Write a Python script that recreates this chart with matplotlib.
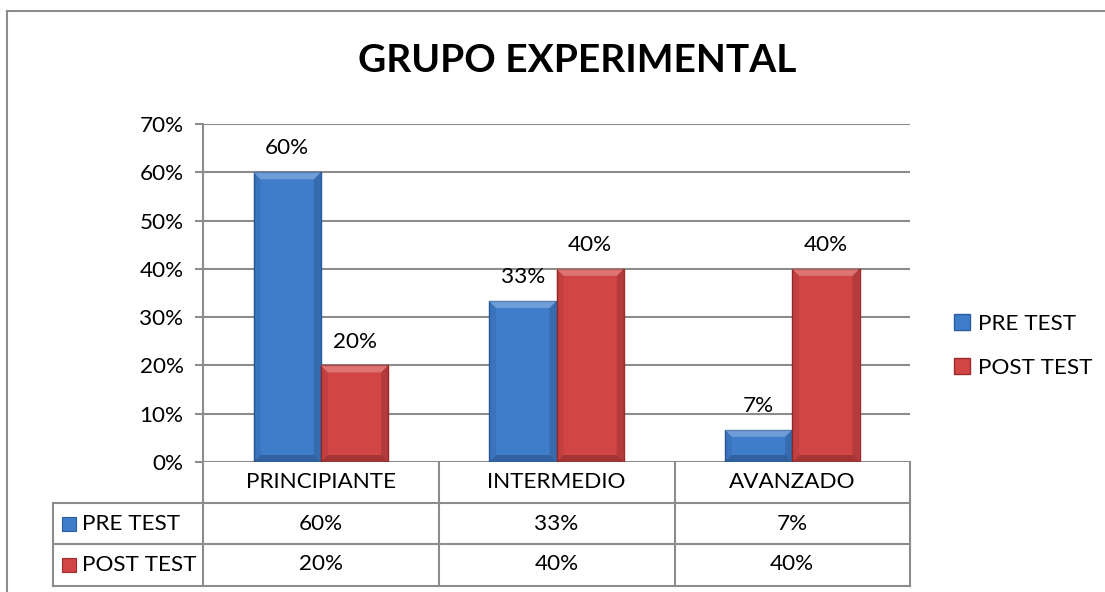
import matplotlib
matplotlib.use("Agg")
import matplotlib.pyplot as plt
from matplotlib.lines import Line2D
from matplotlib.patches import Polygon
import numpy as np

categories = ["PRINCIPIANTE", "INTERMEDIO", "AVANZADO"]
series_names = ["PRE TEST", "POST TEST"]
pre_test = [60.0, 33.33, 6.67]
post_test = [20.0, 40.0, 40.0]
yticks = [0, 10, 20, 30, 40, 50, 60, 70]
title = "GRUPO EXPERIMENTAL"

FONT = "Lato"
plt.rcParams['font.family'] = [FONT, 'DejaVu Sans']
FS = 16.2

W, H = 1105, 592
fig = plt.figure(figsize=(W / 100, H / 100), dpi=100)
fig.patch.set_facecolor("white")

def fx(px):
    return px / W

def fy(py):
    return 1 - py / H

ax_l, ax_r, ax_t, ax_b = 203, 910, 124, 462
ax = fig.add_axes([fx(ax_l), fy(ax_b), fx(ax_r - ax_l), fy(ax_t) - fy(ax_b)])

grid_c = "#8c8c8c"
blue, blue_e = "#3f7dcb", "#2b5c9e"
red, red_e = "#d24545", "#9c2b2b"

x = np.arange(len(categories))
w = 1 / 3.5
b1 = ax.bar(x - w / 2, pre_test, w, color=blue, edgecolor=blue_e, linewidth=1.0,
            label=series_names[0], zorder=3)
b2 = ax.bar(x + w / 2, post_test, w, color=red, edgecolor=red_e, linewidth=1.0,
            label=series_names[1], zorder=3)

ax.set_xlim(-0.5, len(categories) - 0.5)
ax.set_ylim(0, 70)

# bevel effect on bars
px_x = 3 / (ax_r - ax_l)
px_y = 70 / (ax_b - ax_t)
bev = 7
for bars in (b1, b2):
    for r in bars:
        x0, y0 = r.get_x(), r.get_y()
        x1, y1 = x0 + r.get_width(), y0 + r.get_height()
        dx = bev * px_x
        dy = min(bev * px_y, (y1 - y0) / 2)
        pieces = [
            ([(x0, y1), (x1, y1), (x1 - dx, y1 - dy), (x0 + dx, y1 - dy)], "white", 0.25),
            ([(x0, y0), (x0, y1), (x0 + dx, y1 - dy), (x0 + dx, y0 + dy)], "black", 0.07),
            ([(x1, y0), (x1, y1), (x1 - dx, y1 - dy), (x1 - dx, y0 + dy)], "black", 0.14),
            ([(x0, y0), (x1, y0), (x1 - dx, y0 + dy), (x0 + dx, y0 + dy)], "black", 0.22),
        ]
        for pts, c, a in pieces:
            ax.add_patch(Polygon(pts, closed=True, facecolor=c, alpha=a,
                                 edgecolor="none", zorder=4))

for bars, vals in ((b1, pre_test), (b2, post_test)):
    for r, v in zip(bars, vals):
        ax.annotate(f"{round(v)}%", (r.get_x() + r.get_width() / 2, v),
                    xytext=(0, 10), textcoords="offset points", ha="center",
                    va="bottom", fontsize=FS, color="black", zorder=5)

ax.set_yticks(yticks)
ax.set_yticklabels([f"{t}%" for t in yticks], fontsize=FS)
ax.yaxis.grid(True, color=grid_c, linewidth=1.5, zorder=0)
ax.set_xticks([])
for s in ("top", "right", "bottom"):
    ax.spines[s].set_visible(False)
ax.spines["left"].set_color(grid_c)
ax.spines["left"].set_linewidth(1.5)
ax.tick_params(axis="y", length=6, width=1.5, color=grid_c, pad=8)

# Data table below the axes
row_h = 41 / (ax_b - ax_t)
xt = ax.get_xaxis_transform()
ft = fig.transFigure
for i, c in enumerate(categories):
    ax.text(i, -row_h * 0.5, c, transform=xt, ha="center", va="center",
            fontsize=FS, clip_on=False)
for r, (name, vals) in enumerate(zip(series_names, (pre_test, post_test))):
    for i, v in enumerate(vals):
        ax.text(i, -row_h * (r + 1.5), f"{round(v)}%", transform=xt,
                ha="center", va="center", fontsize=FS, clip_on=False)

lines = []
tbl_left = 53
for yy in (503, 544, 586):
    lines.append(((tbl_left, ax_r), (yy, yy)))
lines.append(((tbl_left, tbl_left), (503, 586)))
for xx in (203, 439, 675, 910):
    lines.append(((xx, xx), (ax_b, 586)))
for (xs, ys) in lines:
    fig.add_artist(Line2D([fx(v) for v in xs], [fy(v) for v in ys],
                          color=grid_c, linewidth=1.5))

for r, (name, col, ec) in enumerate(zip(series_names, (blue, red), (blue_e, red_e))):
    yc = 523.5 + r * 41.5
    fig.add_artist(plt.Rectangle((fx(62), fy(yc + 7)), fx(14), fy(0) - fy(14),
                                 transform=ft, facecolor=col, edgecolor=ec, linewidth=0.8))
    fig.text(fx(82), fy(yc), name, ha="left", va="center", fontsize=FS)

fig.add_artist(Line2D([fx(7), fx(7)], [fy(11), fy(592)], color=grid_c, linewidth=1.5))
fig.add_artist(Line2D([fx(7), fx(1104)], [fy(11), fy(11)], color=grid_c, linewidth=1.5))

fig.text(fx(577), fy(61), title, ha="center", va="center", fontsize=28,
         fontweight="bold")

ax.legend(handles=[b1, b2], loc="center left", bbox_to_anchor=(fx(943), fy(346)),
          bbox_transform=ft, frameon=False, fontsize=FS, handlelength=0.7,
          handleheight=0.7, handletextpad=0.35, labelspacing=1.05, borderpad=0)

fig.savefig("out.png", dpi=100, facecolor="white")
